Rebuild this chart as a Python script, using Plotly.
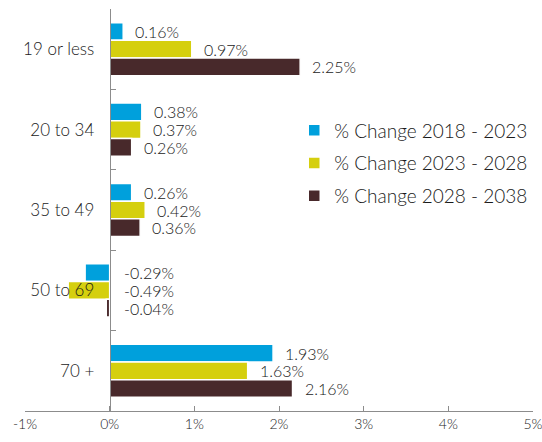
import plotly.graph_objects as go

categories = ["19 or less", "20 to 34", "35 to 49", "50 to 69", "70 +"]
series_names = ["% Change 2018 - 2023", "% Change 2023 - 2028", "% Change 2028 - 2038"]
change_2018_2023 = [0.16, 0.38, 0.26, -0.29, 1.93]
change_2023_2028 = [0.97, 0.37, 0.42, -0.49, 1.63]
change_2028_2038 = [2.25, 0.26, 0.36, -0.04, 2.16]
x_tick_values = [-1, 0, 1, 2, 3, 4, 5]
x_tick_labels = ["-1%", "0%", "1%", "2%", "3%", "4%", "5%"]

colors = ["#00A0DC", "#D5CF0E", "#48292B"]
series_values = [change_2018_2023, change_2023_2028, change_2028_2038]
FONT = "Lato"
TEXT = "#1a1a1a"
AXIS = "#8c8c8c"
BARGAP = 0.34

fig = go.Figure()
for k, (name, vals, col) in enumerate(zip(series_names, series_values, colors)):
    fig.add_trace(go.Bar(
        y=categories, x=vals, name=name, orientation="h",
        marker=dict(color=col, line=dict(color="white", width=1.5)),
        legendgroup=f"g{k}",
        hoverinfo="skip",
    ))

bw = (1 - BARGAP) / 3
annotations = []
for k, vals in enumerate(series_values):
    for i, v in enumerate(vals):
        neg = v < 0
        annotations.append(dict(
            x=max(v, 0), y=i + (k - 1) * bw, xref="x", yref="y",
            text=f"{v:.2f}%", showarrow=False, xanchor="left", yanchor="middle",
            xshift=12 if neg else 10,
            font=dict(family=FONT, size=16, color=TEXT, weight=300),
        ))

fig.update_layout(
    width=542, height=442,
    margin=dict(l=25, r=9, t=9, b=31, autoexpand=False),
    paper_bgcolor="white", plot_bgcolor="white",
    barmode="group", bargap=BARGAP, bargroupgap=0,
    font=dict(family=FONT, color=TEXT),
    showlegend=True,
    legend=dict(
        x=0.53, y=0.745, xanchor="left", yanchor="top",
        font=dict(family=FONT, size=19, color=TEXT, weight=300),
        traceorder="grouped", tracegroupgap=5,
        bgcolor="rgba(0,0,0,0)", itemwidth=30,
    ),
    annotations=annotations,
    xaxis=dict(
        range=[-1, 5], tickvals=x_tick_values, ticktext=x_tick_labels,
        ticks="inside", ticklen=5, tickcolor=AXIS,
        showline=True, linecolor=AXIS, linewidth=1,
        showgrid=False, zeroline=False, automargin=False,
        ticklabeloverflow="allow",
        tickfont=dict(family=FONT, size=14, color=TEXT, weight=300),
    ),
    yaxis=dict(
        type="category", categoryorder="array", categoryarray=categories,
        autorange="reversed",
        anchor="free", position=1 / 6,
        ticks="inside", ticklen=5, tickcolor=AXIS, tickson="boundaries",
        showline=True, linecolor=AXIS, linewidth=1,
        showgrid=False, zeroline=False, automargin=False,
        ticklabelstandoff=12,
        tickfont=dict(family=FONT, size=17, color=TEXT, weight=300),
    ),
)

fig.write_html(
    "out.html",
    config={"displayModeBar": False},
    post_script="document.body.style.margin='0';document.body.style.overflow='hidden';",
)
